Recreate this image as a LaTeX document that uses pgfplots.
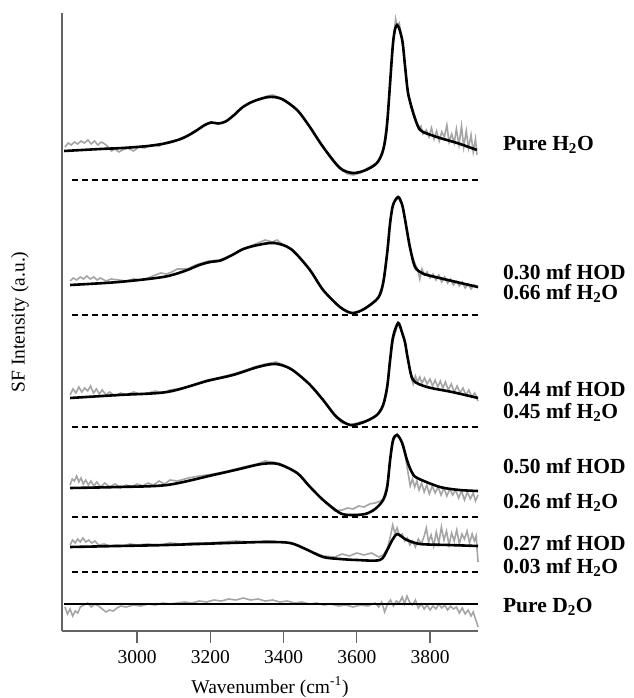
\documentclass[border=0pt]{standalone}
\usepackage{pgfplots}
\pgfplotsset{compat=1.18}
\usepackage{fontspec}
\setmainfont{Liberation Serif}
\definecolor{axgray}{RGB}{100,100,100}
\definecolor{datagray}{RGB}{165,165,165}
\begin{document}
\begin{tikzpicture}
\useasboundingbox (-62pt,-67pt) rectangle (571pt,631pt);
\begin{axis}[
  at={(0,0)}, anchor=south west,
  scale only axis, width=416pt, height=618pt,
  xmin=2795, xmax=3931, ymin=0, ymax=618,
  axis x line*=bottom, axis y line*=left,
  axis line style={axgray, line width=1.6pt, -},
  ytick=\empty,
  xtick={3000,3200,3400,3600,3800},
  tick align=outside, major tick length=12pt,
  every tick/.style={axgray, line width=1.4pt},
  /pgf/number format/assume math mode=true,
  /pgf/number format/1000 sep={},
  xticklabel style={font=\fontsize{19.5}{21}\selectfont, yshift=-4pt},
  label style={font=\fontsize{19.5}{21}\selectfont},
  xlabel={Wavenumber (cm\textsuperscript{-1})},
  xlabel style={yshift=-6pt},
  ylabel={SF Intensity (a.u.)},
  ylabel style={at={(axis description cs:-0.101,0.5)}, anchor=center},
  clip=false,
]
% ---------- raw data (gray) ----------
\addplot[datagray, line width=1.6pt] coordinates {
(2803,484) (2812,488) (2820,486) (2829,489) (2838,487) (2847,490) (2856,488) (2866,491) (2875,487) (2884,490) (2893,486) (2902,489) (2912,487) (2921,484) (2930,480) (2940,482) (2950,479) (2960,481) (2975,483) (2990,480) (3005,484) (3020,483) (3040,486) (3060,485) (3082,489) (3110,491) (3126,494) (3150,497) (3180,505) (3200,509) (3220,507) (3240,509) (3265,516) (3289,524) (3310,529) (3336,532) (3355,535) (3371,536) (3385,534) (3400,532) (3437,521) (3470,505) (3508,484) (3530,472) (3554,462) (3575,457) (3590,456) (3610,458) (3625,462) (3655,468) (3672,481) (3683,510) (3692,550) (3700,592) (3706,612) (3710,605) (3716,608) (3724,590) (3732,565) (3740,536) (3754,520) (3768,502) (3775,505) (3781,497) (3790,501) (3797,494) (3804,503) (3811,492) (3818,500) (3825,490) (3832,499) (3839,494) (3846,506) (3852,489) (3859,497) (3866,488) (3872,502) (3879,486) (3886,505) (3892,484) (3899,500) (3905,483) (3912,496) (3918,479) (3924,492) (3928,476)};
\addplot[datagray, line width=1.6pt] coordinates {
(2817,350) (2826,353) (2835,351) (2845,354) (2854,352) (2863,355) (2872,352) (2882,354) (2891,351) (2900,353) (2915,350) (2930,352) (2950,351) (2970,350) (2990,352) (3010,351) (3030,353) (3050,356) (3065,358) (3080,357) (3095,359) (3110,362) (3137,362) (3160,366) (3195,370) (3225,371) (3260,376) (3281,380) (3310,385) (3330,388) (3350,391) (3370,389) (3382,391) (3400,386) (3426,381) (3470,362) (3508,341) (3554,324) (3575,319) (3587,318) (3610,320) (3630,325) (3658,333) (3672,348) (3683,380) (3691,410) (3700,428) (3713,433) (3724,426) (3732,411) (3745,382) (3759,367) (3766,362) (3772,352) (3778,362) (3785,356) (3792,359) (3800,353) (3808,357) (3816,351) (3824,356) (3832,349) (3840,354) (3848,348) (3856,352) (3864,346) (3872,350) (3880,345) (3888,349) (3896,343) (3904,347) (3912,342) (3920,346) (3931,343)};
\addplot[datagray, line width=1.6pt] coordinates {
(2817,236) (2825,242) (2833,238) (2841,244) (2849,239) (2857,243) (2865,240) (2873,245) (2881,238) (2889,242) (2897,237) (2905,241) (2915,236) (2925,239) (2940,235) (2955,238) (2970,236) (2990,239) (3010,237) (3030,238) (3050,240) (3070,238) (3090,241) (3110,242) (3140,244) (3170,248) (3191,251) (3220,253) (3262,257) (3290,260) (3320,264) (3350,267) (3380,269) (3400,266) (3426,261) (3470,247) (3508,231) (3540,215) (3560,208) (3582,206) (3600,208) (3620,210) (3640,212) (3655,216) (3672,226) (3683,246) (3691,272) (3700,292) (3713,308) (3724,298) (3732,288) (3740,272) (3748,254) (3754,247) (3760,255) (3766,249) (3772,254) (3778,248) (3785,253) (3792,247) (3800,252) (3807,245) (3814,251) (3821,244) (3828,250) (3835,243) (3842,249) (3850,241) (3858,247) (3866,239) (3874,245) (3882,238) (3890,243) (3898,236) (3906,241) (3914,234) (3922,238) (3931,230)};
\addplot[datagray, line width=1.6pt] coordinates {
(2817,146) (2823,152) (2829,150) (2835,155) (2841,149) (2847,153) (2853,147) (2860,151) (2867,146) (2874,150) (2882,145) (2890,149) (2900,144) (2912,148) (2925,144) (2940,147) (2955,143) (2970,146) (2985,144) (3000,147) (3015,145) (3030,148) (3045,146) (3060,150) (3075,147) (3090,151) (3110,150) (3140,153) (3170,155) (3208,157) (3250,160) (3290,164) (3328,167) (3350,170) (3370,169) (3385,168) (3400,166) (3437,158) (3470,145) (3508,131) (3540,120) (3560,121) (3575,123) (3590,122) (3605,125) (3620,124) (3635,127) (3650,128) (3665,130) (3672,132) (3683,146) (3691,172) (3700,190) (3710,197) (3720,191) (3732,176) (3740,158) (3746,145) (3752,152) (3758,144) (3764,150) (3770,141) (3777,148) (3784,139) (3791,146) (3798,137) (3806,145) (3814,138) (3822,144) (3830,136) (3838,143) (3846,135) (3854,142) (3862,136) (3870,141) (3878,133) (3886,140) (3894,131) (3902,139) (3910,132) (3918,138) (3924,130) (3931,136)};
\addplot[datagray, line width=1.6pt] coordinates {
(2817,86) (2824,91) (2831,88) (2838,92) (2845,89) (2852,93) (2860,89) (2868,91) (2876,88) (2885,90) (2895,86) (2910,87) (2925,85) (2940,86) (2960,85) (2980,87) (3000,86) (3030,87) (3060,86) (3090,88) (3120,87) (3150,88) (3190,88) (3230,89) (3270,90) (3310,89) (3355,90) (3390,89) (3418,88) (3460,82) (3508,75) (3540,74) (3560,77) (3580,75) (3600,78) (3620,76) (3640,78) (3660,74) (3672,76) (3683,82) (3692,95) (3698,106) (3704,98) (3710,103) (3717,95) (3724,97) (3731,90) (3738,93) (3745,86) (3752,90) (3760,84) (3768,92) (3776,87) (3784,95) (3790,103) (3796,89) (3803,96) (3810,85) (3817,99) (3824,88) (3831,104) (3838,91) (3845,100) (3852,86) (3859,98) (3866,90) (3873,101) (3880,87) (3887,97) (3894,92) (3901,100) (3908,88) (3915,97) (3921,90) (3926,95) (3931,69)};
\addplot[datagray, line width=1.6pt] coordinates {
(2803,24) (2810,17) (2817,22) (2824,15) (2831,20) (2838,18) (2845,24) (2855,26) (2865,28) (2875,24) (2885,27) (2895,25) (2905,22) (2915,19) (2925,21) (2935,20) (2945,23) (2955,25) (2970,24) (2990,26) (3010,25) (3030,27) (3050,26) (3070,28) (3090,27) (3110,28) (3130,29) (3150,28) (3170,30) (3190,29) (3210,31) (3230,30) (3250,32) (3270,31) (3290,33) (3310,31) (3330,32) (3350,30) (3370,31) (3390,29) (3410,30) (3430,28) (3450,29) (3470,27) (3490,28) (3510,26) (3530,27) (3550,25) (3570,26) (3590,24) (3610,26) (3630,25) (3650,28) (3660,24) (3668,29) (3676,19) (3684,27) (3692,31) (3700,25) (3708,30) (3716,28) (3724,34) (3730,27) (3737,35) (3744,29) (3752,26) (3760,31) (3768,23) (3776,27) (3784,22) (3792,26) (3800,21) (3808,25) (3816,22) (3824,27) (3832,23) (3840,26) (3848,21) (3856,25) (3864,22) (3872,24) (3880,18) (3888,23) (3896,17) (3904,21) (3912,15) (3918,19) (3924,12) (3928,8) (3931,4)};
% ---------- zero lines (dashed) ----------
\addplot[black, line width=2pt, dash pattern=on 6pt off 4pt] coordinates {(2822,451) (3931,451)};
\addplot[black, line width=2pt, dash pattern=on 6pt off 4pt] coordinates {(2822,316) (3931,316)};
\addplot[black, line width=2pt, dash pattern=on 6pt off 4pt] coordinates {(2822,204) (3931,204)};
\addplot[black, line width=2pt, dash pattern=on 6pt off 4pt] coordinates {(2822,114) (3931,114)};
\addplot[black, line width=2pt, dash pattern=on 6pt off 4pt] coordinates {(2822,59) (3931,59)};
% ---------- fits (black) ----------
\addplot[black, line width=2.6pt, smooth] coordinates {
(2801,480) (2900,482) (2960,483) (3030,485) (3082,488) (3126,493) (3160,500) (3185,506) (3203,508.5) (3222,507.5) (3242,509.5) (3265,516) (3289,524) (3320,530) (3360,534) (3395,532) (3437,521) (3470,505) (3508,484) (3554,463) (3590,458) (3625,461) (3655,468) (3672,481) (3683,508) (3699,588) (3710,606) (3724,591) (3732,564) (3740,538) (3754,518) (3768,504) (3781,499) (3827,493) (3874,488) (3928,481)};
\addplot[black, line width=2.6pt, smooth] coordinates {
(2817,346) (2950,349) (3071,354) (3130,360) (3170,366) (3200,369) (3228,370.5) (3260,376) (3290,382) (3330,386) (3375,388) (3420,382) (3470,362) (3508,341) (3554,324) (3587,318) (3620,322) (3658,333) (3672,348) (3683,378) (3691,408) (3699,426) (3713,434) (3724,426) (3732,411) (3745,384) (3759,364) (3778,358) (3792,356) (3860,350) (3931,344)};
\addplot[black, line width=2.6pt, smooth] coordinates {
(2817,233) (2950,236) (3082,239) (3191,250) (3262,256) (3330,264) (3378,267) (3420,262) (3470,247) (3508,231) (3545,214) (3582,206) (3620,209) (3655,216) (3672,226) (3683,244) (3691,271) (3699,294) (3713,308) (3724,298) (3732,288) (3740,271) (3754,251) (3792,244) (3860,239) (3931,233)};
\addplot[black, line width=2.6pt, smooth] coordinates {
(2817,143) (2950,144) (3082,146) (3208,156) (3280,162) (3340,167) (3385,167) (3437,158) (3470,145) (3508,131) (3554,118) (3582,116) (3623,117) (3650,122) (3672,131) (3683,144) (3691,171) (3699,191) (3710,196) (3724,188) (3737,171) (3750,159) (3765,153) (3827,144) (3880,141) (3931,140)};
\addplot[black, line width=2.6pt, smooth] coordinates {
(2817,84) (2950,85) (3082,86) (3250,88) (3355,89) (3418,88) (3460,82) (3508,74) (3554,72) (3600,71) (3663,71) (3683,81) (3697,91) (3710,97) (3724,94) (3737,91) (3773,87) (3850,86) (3931,85)};
\addplot[black, line width=2.6pt] coordinates {(2801,27) (3931,27)};
% ---------- labels ----------
\begin{scope}[every node/.style={anchor=west, inner sep=0pt, font=\bfseries\fontsize{21.5}{23}\selectfont}]
\node at (axis cs:3999,486) {Pure H\textsubscript{2}O};
\node at (axis cs:3999,359) {0.30 mf HOD};
\node at (axis cs:3999,338) {0.66 mf H\textsubscript{2}O};
\node at (axis cs:3999,242) {0.44 mf HOD};
\node at (axis cs:3999,219) {0.45 mf H\textsubscript{2}O};
\node at (axis cs:3999,165) {0.50 mf HOD};
\node at (axis cs:3999,129) {0.26 mf H\textsubscript{2}O};
\node at (axis cs:3999,88) {0.27 mf HOD};
\node at (axis cs:3999,64) {0.03 mf H\textsubscript{2}O};
\node at (axis cs:3999,24) {Pure D\textsubscript{2}O};
\end{scope}
\end{axis}
\end{tikzpicture}
\end{document}
